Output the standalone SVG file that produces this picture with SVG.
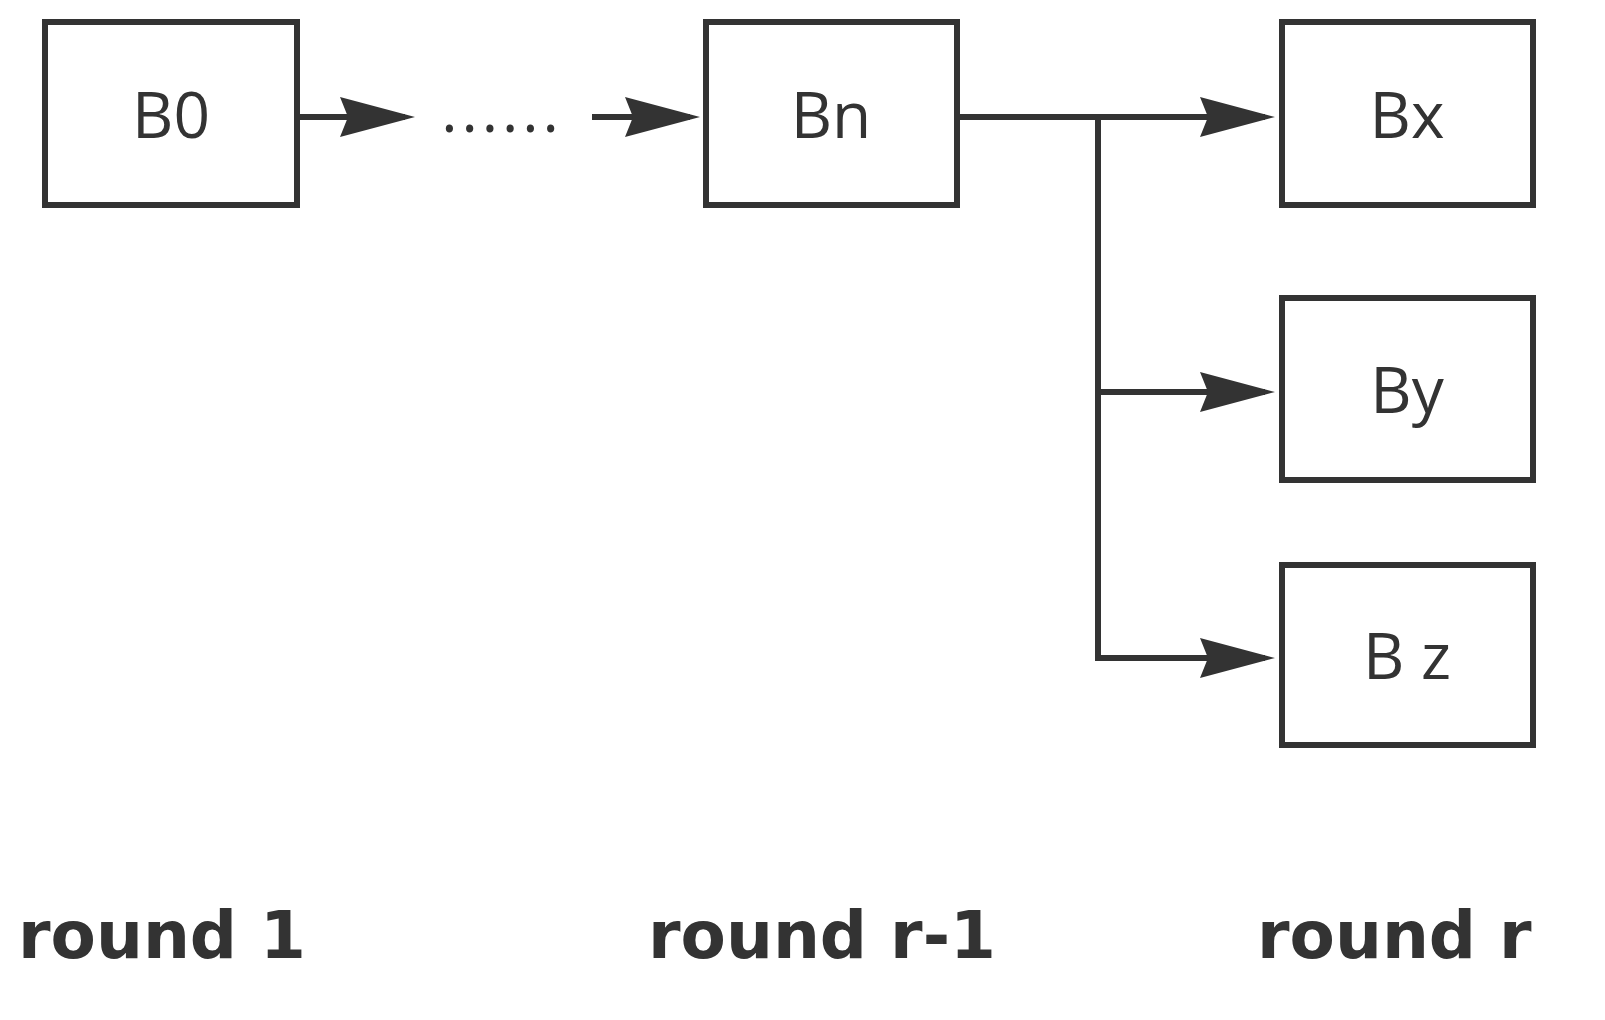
<svg xmlns="http://www.w3.org/2000/svg" width="1605" height="1020" viewBox="0 0 1605 1020">
<style>
.box{fill:#fff;stroke:#333;stroke-width:6}
.t{font-family:"Open Sans","DejaVu Sans",sans-serif;font-size:64px;fill:#333;text-anchor:middle}
.r{font-family:"DejaVu Sans",sans-serif;font-weight:bold;font-size:66px;fill:#333}
.c{fill:none;stroke:#333;stroke-width:6}
</style>
<defs>
<marker id="ah" viewBox="0 0 75 40" refX="65" refY="20" markerWidth="75" markerHeight="40" markerUnits="userSpaceOnUse" orient="auto"><path d="M0,0L75,20L0,40L8,20Z" fill="#333"/></marker></defs>
<rect width="1605" height="1020" fill="#fff"/>
<g id="connectors">
<path class="c" d="M297,117H405" marker-end="url(#ah)"/>
<path class="c" d="M592,117H690" marker-end="url(#ah)"/>
<path class="c" d="M957,117H1265" marker-end="url(#ah)"/>
<path class="c" d="M1098,114V661"/>
<path class="c" d="M1098,392H1265" marker-end="url(#ah)"/>
<path class="c" d="M1095,658H1265" marker-end="url(#ah)"/>
<text x="502" y="132" class="t" style="font-size:62px;letter-spacing:4px">......</text>
</g>
<g id="B0"><rect class="box" x="45" y="22" width="252" height="183"/><text class="t" x="171" y="138">B0</text></g>
<g id="Bn"><rect class="box" x="706" y="22" width="251" height="183"/><text class="t" x="831" y="138">Bn</text></g>
<g id="Bx"><rect class="box" x="1282" y="22" width="251" height="183"/><text class="t" x="1407" y="138">Bx</text></g>
<g id="By"><rect class="box" x="1282" y="298" width="251" height="182"/><text class="t" x="1407" y="413">By</text></g>
<g id="Bz"><rect class="box" x="1282" y="565" width="251" height="180"/><text class="t" x="1407" y="679">B z</text></g>
<text class="r" x="18" y="958">round 1</text>
<text class="r" x="648" y="958">round r-1</text>
<text class="r" x="1257" y="958">round r</text>
</svg>
